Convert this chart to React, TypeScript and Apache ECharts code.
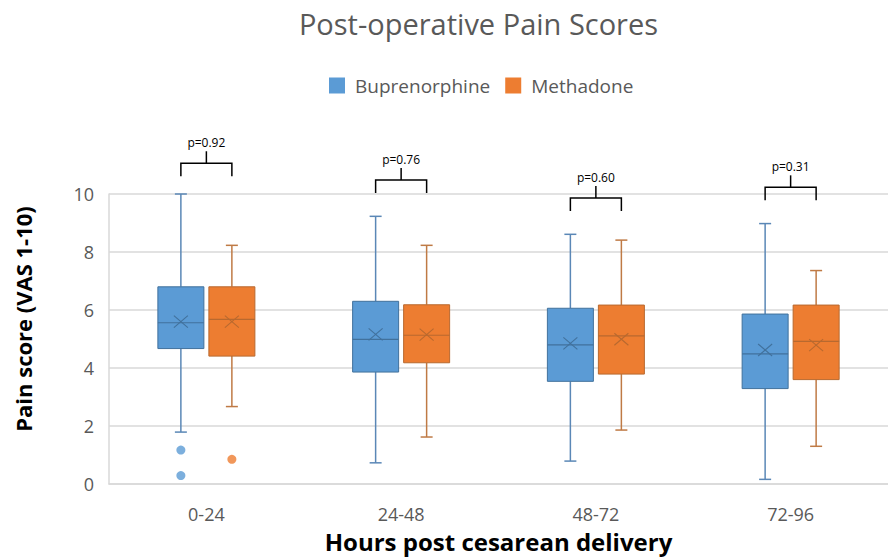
import React, { useEffect, useRef } from "react";
import * as echarts from "echarts";

const categories = ["0-24", "24-48", "48-72", "72-96"];
const seriesNames = ["Buprenorphine", "Methadone"];
// each row: [min, Q1, median, Q3, max, mean]
const buprenorphine = [
  [1.79, 4.67, 5.56, 6.8, 10, 5.6],
  [0.73, 3.86, 4.99, 6.3, 9.23, 5.16],
  [0.79, 3.54, 4.8, 6.06, 8.61, 4.85],
  [0.16, 3.29, 4.49, 5.86, 8.98, 4.62],
];
const methadone = [
  [2.67, 4.41, 5.68, 6.8, 8.23, 5.6],
  [1.62, 4.18, 5.13, 6.18, 8.23, 5.15],
  [1.86, 3.79, 5.11, 6.17, 8.41, 4.99],
  [1.3, 3.6, 4.92, 6.17, 7.36, 4.79],
];
// [category index, value]
const buprenorphineOutliers = [
  [0, 1.17],
  [0, 0.29],
];
const methadoneOutliers = [[0, 0.85]];
const pValues = ["p=0.92", "p=0.76", "p=0.60", "p=0.31"];
const bracketLevels = [11.06, 10.48, 9.86, 10.23];
const yTicks = [0, 2, 4, 6, 8, 10];

const FONT = "Open Sans";
const BLUE = "#5B9BD5";
const BLUE_DARK = "#41719C";
const BLUE_WHISKER = "#5A87B6";
const ORANGE = "#ED7D31";
const ORANGE_DARK = "#B8692F";
const ORANGE_WHISKER = "#BF7A45";
const OFFSET = 25.5;

function makeBoxRender(offset: number, fill: string, stroke: string, whisker: string) {
  return (params: any, api: any) => {
    const cat = api.value(0);
    const lo = api.value(1);
    const q1 = api.value(2);
    const med = api.value(3);
    const q3 = api.value(4);
    const hi = api.value(5);
    const mean = api.value(6);
    const pt = (v: number) => api.coord([cat, v]);
    const x = pt(med)[0] + offset;
    const yLo = pt(lo)[1];
    const yQ1 = pt(q1)[1];
    const yMed = pt(med)[1];
    const yQ3 = pt(q3)[1];
    const yHi = pt(hi)[1];
    const yMean = pt(mean)[1];
    const half = 23;
    const cap = 6;
    const mx = 7;
    const my = 6;
    const wStyle = { stroke: whisker, lineWidth: 1.5 };
    return {
      type: "group",
      children: [
        { type: "line", shape: { x1: x, y1: yHi, x2: x, y2: yQ3 }, style: wStyle },
        { type: "line", shape: { x1: x - cap, y1: yHi, x2: x + cap, y2: yHi }, style: wStyle },
        { type: "line", shape: { x1: x, y1: yQ1, x2: x, y2: yLo }, style: wStyle },
        { type: "line", shape: { x1: x - cap, y1: yLo, x2: x + cap, y2: yLo }, style: wStyle },
        {
          type: "rect",
          shape: { x: x - half, y: yQ3, width: half * 2, height: yQ1 - yQ3 },
          style: { fill, stroke, lineWidth: 1 },
        },
        {
          type: "line",
          shape: { x1: x - half, y1: yMed, x2: x + half, y2: yMed },
          style: { stroke, lineWidth: 1.2 },
        },
        {
          type: "line",
          shape: { x1: x - mx, y1: yMean - my, x2: x + mx, y2: yMean + my },
          style: { stroke, lineWidth: 1.1 },
        },
        {
          type: "line",
          shape: { x1: x - mx, y1: yMean + my, x2: x + mx, y2: yMean - my },
          style: { stroke, lineWidth: 1.1 },
        },
      ],
    };
  };
}

function bracketRender(params: any, api: any) {
  const cat = api.value(0);
  const lvl = api.value(1);
  const [cx, y] = api.coord([cat, lvl]);
  const drop = 13;
  const stem = 12;
  const s = { stroke: "#000", lineWidth: 1.5, fill: "none" };
  return {
    type: "group",
    children: [
      {
        type: "polyline",
        shape: {
          points: [
            [cx - OFFSET, y + drop],
            [cx - OFFSET, y],
            [cx + OFFSET, y],
            [cx + OFFSET, y + drop],
          ],
        },
        style: s,
      },
      { type: "line", shape: { x1: cx, y1: y, x2: cx, y2: y - stem }, style: s },
      {
        type: "text",
        x: cx,
        y: y - stem - 9,
        style: {
          text: pValues[params.dataIndex],
          fontSize: 12,
          fontFamily: FONT,
          fill: "#000",
          stroke: "none",
          align: "center",
          verticalAlign: "middle",
        },
      },
    ],
  };
}

export default function App() {
  const ref = useRef<HTMLDivElement>(null);
  useEffect(() => {
    if (!ref.current) return;
    const chart = echarts.init(ref.current, null, { renderer: "svg" });
    chart.setOption({
      animation: false,
      backgroundColor: "#fff",
      graphic: [
        {
          type: "text",
          x: 478.5,
          y: 23,
          style: {
            text: "Post-operative Pain Scores",
            fontSize: 29,
            fontFamily: FONT,
            fill: "#595959",
            align: "center",
            verticalAlign: "middle",
          },
        },
      ],
      legend: {
        data: seriesNames,
        left: 329,
        top: 76,
        padding: 0,
        itemGap: 15,
        itemWidth: 16,
        itemHeight: 16,
        icon: "rect",
        textStyle: {
          fontSize: 19,
          fontFamily: FONT,
          color: "#595959",
          padding: [0, 0, 0, 5],
        },
      },
      grid: { left: 109, right: -8, top: 194, bottom: 76 },
      xAxis: {
        type: "category",
        data: categories,
        axisLine: { lineStyle: { color: "#d9d9d9", width: 1.5 } },
        axisTick: { show: false },
        axisLabel: { fontSize: 18, fontFamily: FONT, color: "#595959", margin: 21 },
        name: "Hours post cesarean delivery",
        nameLocation: "middle",
        nameGap: 45,
        nameTextStyle: { fontSize: 24, fontWeight: "bold", fontFamily: FONT, color: "#000" },
      },
      yAxis: {
        type: "value",
        min: yTicks[0],
        max: yTicks[yTicks.length - 1],
        interval: 2,
        axisLine: { show: true, lineStyle: { color: "#d9d9d9", width: 1.5 } },
        axisTick: { show: false },
        splitLine: { lineStyle: { color: "#d9d9d9", width: 1.5 } },
        axisLabel: { fontSize: 18, fontFamily: FONT, color: "#595959", margin: 15 },
        name: "Pain score (VAS 1-10)",
        nameLocation: "middle",
        nameRotate: 90,
        nameGap: 75,
        nameTextStyle: {
          fontSize: 22,
          fontWeight: "bold",
          fontFamily: FONT,
          color: "#000",
          padding: [0, 0, 0, 40],
        },
      },
      series: [
        {
          name: seriesNames[0],
          type: "custom",
          itemStyle: { color: BLUE, borderColor: BLUE_DARK },
          renderItem: makeBoxRender(-OFFSET, BLUE, BLUE_DARK, BLUE_WHISKER),
          encode: { x: 0, y: [1, 2, 3, 4, 5] },
          data: buprenorphine.map((d, i) => [i, ...d]),
          z: 3,
        },
        {
          name: seriesNames[1],
          type: "custom",
          itemStyle: { color: ORANGE, borderColor: ORANGE_DARK },
          renderItem: makeBoxRender(OFFSET, ORANGE, ORANGE_DARK, ORANGE_WHISKER),
          encode: { x: 0, y: [1, 2, 3, 4, 5] },
          data: methadone.map((d, i) => [i, ...d]),
          z: 3,
        },
        {
          type: "scatter",
          symbol: "circle",
          symbolSize: 9,
          symbolOffset: [-OFFSET, 0],
          itemStyle: { color: BLUE },
          data: buprenorphineOutliers,
          z: 4,
        },
        {
          type: "scatter",
          symbol: "circle",
          symbolSize: 9,
          symbolOffset: [OFFSET, 0],
          itemStyle: { color: ORANGE },
          data: methadoneOutliers,
          z: 4,
        },
        {
          type: "custom",
          clip: false,
          itemStyle: { color: "#000" },
          renderItem: bracketRender,
          encode: { x: 0, y: 1 },
          data: bracketLevels.map((v, i) => [i, v]),
          z: 5,
        },
      ],
    });
    return () => chart.dispose();
  }, []);
  return (
    <div
      ref={ref}
      style={{ position: "absolute", left: 0, top: 0, width: 888, height: 560, background: "#fff" }}
    />
  );
}
